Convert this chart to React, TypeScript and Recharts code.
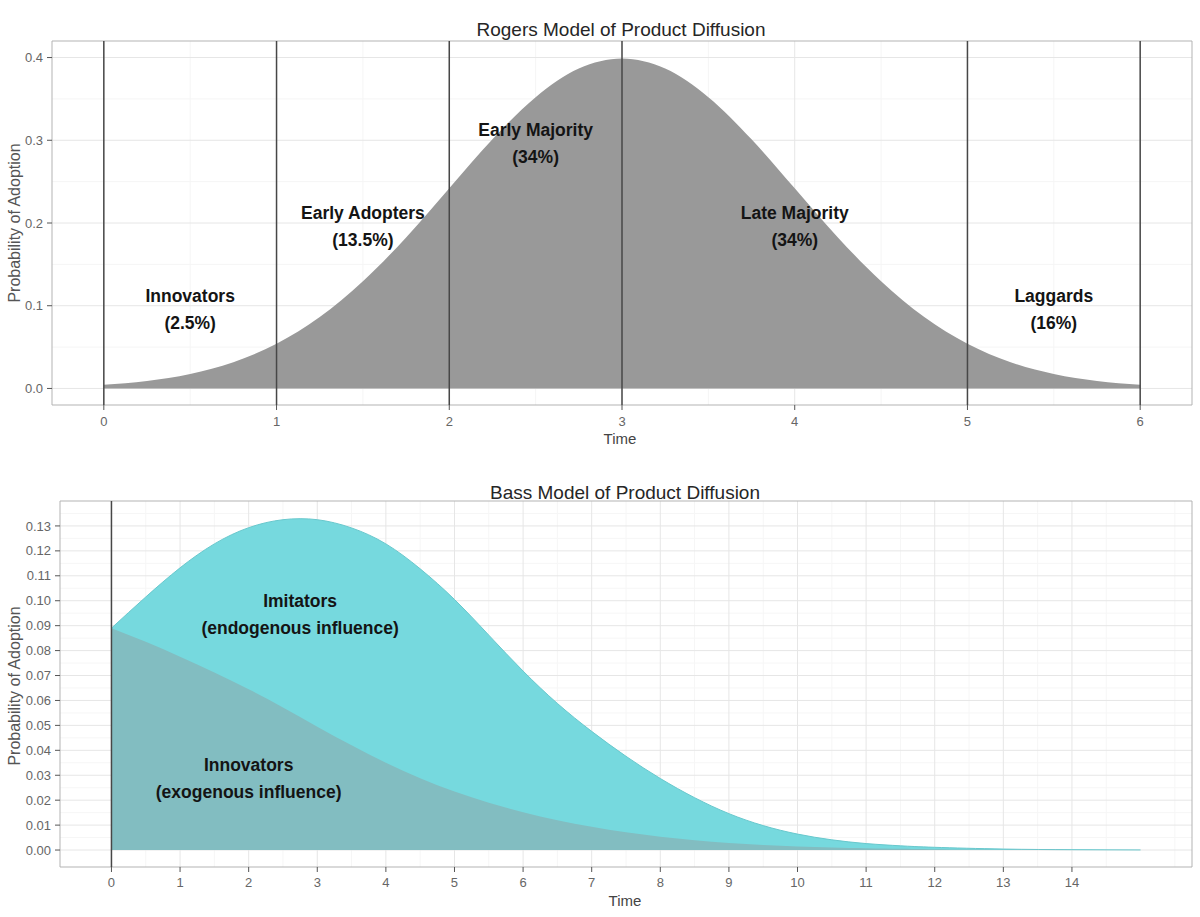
import React from 'react';
import { AreaChart, Area, XAxis, YAxis, CartesianGrid, ReferenceLine, ReferenceDot, ReferenceArea } from 'recharts';

const FONT = '"Liberation Sans", Arial, Helvetica, sans-serif';

// Rogers model (top panel)
const rogersTime = [0, 0.25, 0.5, 0.75, 1, 1.25, 1.5, 1.75, 2, 2.25, 2.5, 2.75, 3, 3.25, 3.5, 3.75, 4, 4.25, 4.5, 4.75, 5, 5.25, 5.5, 5.75, 6];
const rogersDensity = [0.0044, 0.0091, 0.0175, 0.0317, 0.054, 0.0863, 0.1295, 0.1826, 0.242, 0.3011, 0.3521, 0.3867, 0.3989, 0.3867, 0.3521, 0.3011, 0.242, 0.1826, 0.1295, 0.0863, 0.054, 0.0317, 0.0175, 0.0091, 0.0044];
const rogersCuts = [0, 1, 2, 3, 5, 6];
const rogersXTicks = [0, 1, 2, 3, 4, 5, 6];
const rogersXMinor = [0.5, 1.5, 2.5, 3.5, 4.5, 5.5];
const rogersYTicks = [0, 0.1, 0.2, 0.3, 0.4];
const rogersYMinor = [0.05, 0.15, 0.25, 0.35];
const rogersGroups = ['Innovators', 'Early Adopters', 'Early Majority', 'Late Majority', 'Laggards'];
const rogersShares = ['(2.5%)', '(13.5%)', '(34%)', '(34%)', '(16%)'];
const rogersLabelX = [0.5, 1.5, 2.5, 4, 5.5];
const rogersLabelY = [0.1, 0.2, 0.3, 0.2, 0.1];

// Bass model (bottom panel)
const bassTime = [0, 0.5, 1, 1.5, 2, 2.5, 3, 3.5, 4, 4.5, 5, 5.5, 6, 6.5, 7, 7.5, 8, 8.5, 9, 9.5, 10, 10.5, 11, 11.5, 12, 13, 14, 15];
const bassTotal = [0.089, 0.1015, 0.1132, 0.1228, 0.1293, 0.1325, 0.1325, 0.1292, 0.1228, 0.1128, 0.1005, 0.0862, 0.0718, 0.0588, 0.0476, 0.0376, 0.0287, 0.021, 0.0146, 0.0098, 0.0064, 0.0041, 0.0026, 0.0017, 0.0011, 0.0004, 0.00015, 0.00005];
const bassInnovators = [0.089, 0.0835, 0.0775, 0.0712, 0.0645, 0.0572, 0.0495, 0.042, 0.035, 0.0288, 0.0235, 0.019, 0.0152, 0.012, 0.0093, 0.0071, 0.0053, 0.0039, 0.0028, 0.002, 0.0014, 0.001, 0.0007, 0.0005, 0.0003, 0.00012, 0.00005, 0];
const bassXTicks = [0, 1, 2, 3, 4, 5, 6, 7, 8, 9, 10, 11, 12, 13, 14];
const bassXMinor = [0.5, 1.5, 2.5, 3.5, 4.5, 5.5, 6.5, 7.5, 8.5, 9.5, 10.5, 11.5, 12.5, 13.5, 14.5, 15.5];
const bassYTicks = [0, 0.01, 0.02, 0.03, 0.04, 0.05, 0.06, 0.07, 0.08, 0.09, 0.1, 0.11, 0.12, 0.13];
const bassYMinor = [0.005, 0.015, 0.025, 0.035, 0.045, 0.055, 0.065, 0.075, 0.085, 0.095, 0.105, 0.115, 0.125, 0.135];
const bassGroups = ['Imitators', 'Innovators'];
const bassNotes = ['(endogenous influence)', '(exogenous influence)'];
const bassLabelX = [2.75, 2];
const bassLabelY = [0.096, 0.03];

const rogersData = rogersTime.map((t, i) => ({ t, p: rogersDensity[i] }));
const bassData = bassTime.map((t, i) => ({ t, total: bassTotal[i], innov: bassInnovators[i] }));

const tickStyle = { fill: '#666', fontSize: 13, fontFamily: FONT };

const twoLine = (first: string, second: string) => (props: any) => {
  const vb = props.viewBox || {};
  const x = (vb.x || 0) + (vb.width || 0) / 2;
  const y = (vb.y || 0) + (vb.height || 0) / 2;
  return (
    <text textAnchor="middle" fontFamily={FONT} fontSize={17.5} fontWeight="bold" fill="#141414">
      <tspan x={x} y={y - 4}>{first}</tspan>
      <tspan x={x} y={y + 23}>{second}</tspan>
    </text>
  );
};

const Caption = ({ x, y, text, size, color, rotate }: any) => (
  <div
    style={{
      position: 'absolute',
      left: x,
      top: y,
      transform: `translate(-50%, -50%)${rotate ? ' rotate(-90deg)' : ''}`,
      fontFamily: FONT,
      fontSize: size,
      color,
      whiteSpace: 'nowrap',
      lineHeight: 1,
    }}
  >
    {text}
  </div>
);

const App = () => {
  return (
    <div style={{ position: 'absolute', left: 0, top: 0, width: 1200, height: 917, background: '#fff' }}>
      {/* Rogers */}
      <div style={{ position: 'absolute', left: 0, top: 0 }}>
        <AreaChart width={1200} height={455} data={rogersData} margin={{ top: 41, right: 8, bottom: 20, left: 0 }}>
          <CartesianGrid horizontalValues={rogersYMinor} verticalValues={rogersXMinor} stroke="#f5f5f5" />
          <CartesianGrid horizontalValues={rogersYTicks} verticalValues={rogersXTicks} stroke="#e6e6e6" />
          <XAxis
            type="number"
            dataKey="t"
            domain={[-0.3, 6.3]}
            ticks={rogersXTicks}
            allowDataOverflow
            axisLine={false}
            tickLine={{ stroke: '#555' }}
            tickSize={5}
            tickMargin={7}
            height={30}
            tick={tickStyle}
          />
          <YAxis
            type="number"
            domain={[-0.02, 0.42]}
            ticks={rogersYTicks}
            allowDataOverflow
            tickFormatter={(v: number) => v.toFixed(1)}
            axisLine={false}
            tickLine={{ stroke: '#555' }}
            tickSize={5}
            tickMargin={4}
            width={52}
            tick={tickStyle}
          />
          <Area dataKey="p" type="monotone" fill="#999999" fillOpacity={1} stroke="none" baseValue={0} isAnimationActive={false} />
          {rogersCuts.map((c) => (
            <ReferenceLine key={c} x={c} stroke="#474747" strokeWidth={1.5} />
          ))}
          <ReferenceArea x1={-0.3} x2={6.3} y1={-0.02} y2={0.42} fill="none" stroke="#b3b3b3" ifOverflow="visible" />
          {rogersGroups.map((g, i) => (
            <ReferenceDot
              key={g}
              x={rogersLabelX[i]}
              y={rogersLabelY[i]}
              r={0}
              fill="none"
              stroke="none"
              ifOverflow="visible"
              label={twoLine(g, rogersShares[i])}
            />
          ))}
        </AreaChart>
      </div>

      {/* Bass */}
      <div style={{ position: 'absolute', left: 0, top: 455 }}>
        <AreaChart width={1200} height={462} data={bassData} margin={{ top: 46, right: 8, bottom: 20, left: 0 }}>
          <CartesianGrid horizontalValues={bassYMinor} verticalValues={bassXMinor} stroke="#f6f6f6" />
          <CartesianGrid horizontalValues={bassYTicks} verticalValues={bassXTicks} stroke="#e6e6e6" />
          <XAxis
            type="number"
            dataKey="t"
            domain={[-0.75, 15.75]}
            ticks={bassXTicks}
            allowDataOverflow
            axisLine={false}
            tickLine={{ stroke: '#555' }}
            tickSize={5}
            tickMargin={6}
            height={30}
            tick={tickStyle}
          />
          <YAxis
            type="number"
            domain={[-0.0068, 0.14]}
            ticks={bassYTicks}
            allowDataOverflow
            tickFormatter={(v: number) => v.toFixed(2)}
            axisLine={false}
            tickLine={{ stroke: '#555' }}
            tickSize={5}
            tickMargin={4}
            width={60}
            tick={tickStyle}
          />
          <Area dataKey="total" type="natural" fill="#76D9DE" fillOpacity={1} stroke="#68c8cd" strokeWidth={1} baseValue={0} isAnimationActive={false} />
          <Area dataKey="innov" type="natural" fill="#82BDC1" fillOpacity={1} stroke="none" baseValue={0} isAnimationActive={false} />
          <ReferenceLine x={0} stroke="#474747" strokeWidth={1.5} />
          <ReferenceArea x1={-0.75} x2={15.75} y1={-0.0068} y2={0.14} fill="none" stroke="#b3b3b3" ifOverflow="visible" />
          {bassGroups.map((g, i) => (
            <ReferenceDot
              key={g}
              x={bassLabelX[i]}
              y={bassLabelY[i]}
              r={0}
              fill="none"
              stroke="none"
              ifOverflow="visible"
              label={twoLine(g, bassNotes[i])}
            />
          ))}
        </AreaChart>
      </div>

      <Caption x={621} y={29} text="Rogers Model of Product Diffusion" size={19} color="#262626" />
      <Caption x={620} y={438} text="Time" size={15} color="#444" />
      <Caption x={15} y={223} text="Probability of Adoption" size={16} color="#555" rotate />

      <Caption x={625} y={492} text="Bass Model of Product Diffusion" size={19} color="#262626" />
      <Caption x={625} y={900} text="Time" size={15} color="#444" />
      <Caption x={15} y={686} text="Probability of Adoption" size={16} color="#555" rotate />
    </div>
  );
};

export default App;
